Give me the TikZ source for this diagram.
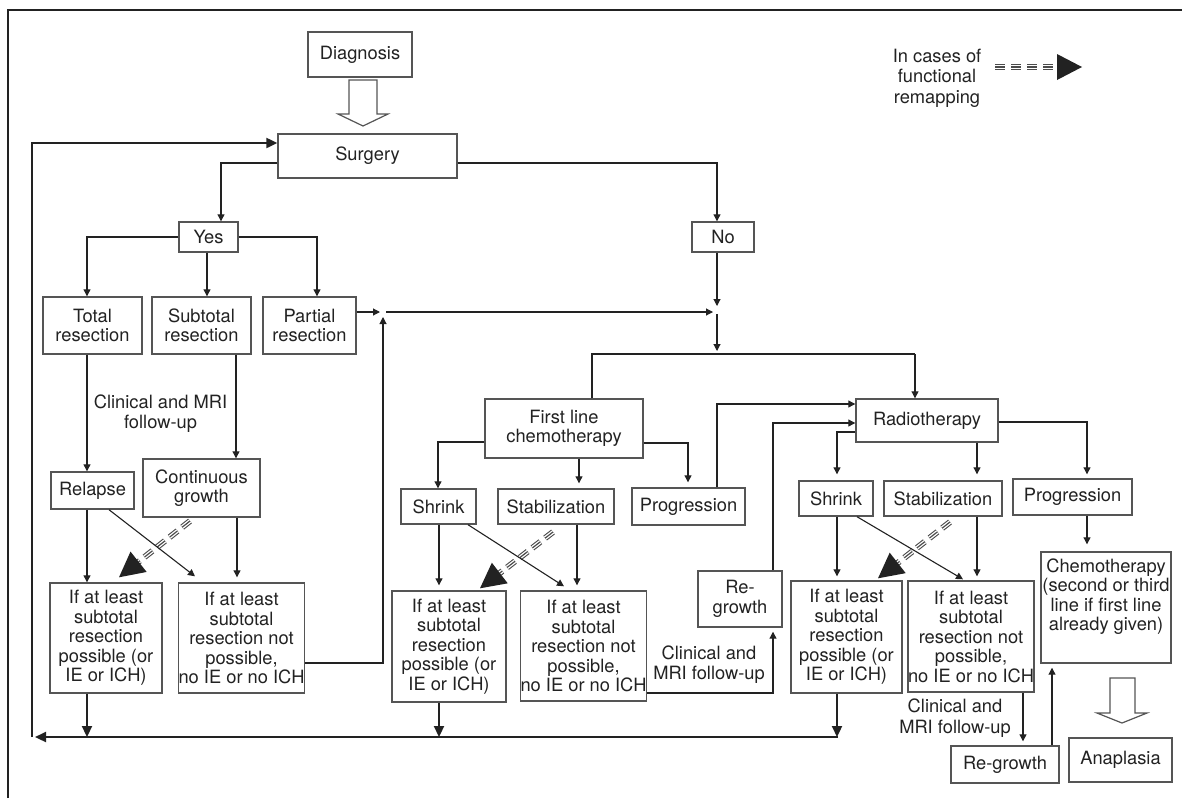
\documentclass[tikz,border=0pt]{standalone}
\usepackage{fontspec}
\setmainfont{TeX Gyre Heros}
\usetikzlibrary{arrows.meta,calc}
\definecolor{ln}{HTML}{222222}
\definecolor{bx}{HTML}{555555}
\newcommand\remaparrow[2]{%
  \path ($(#2)!25pt!(#1)$) coordinate (rb);
  \draw[line width=6pt, dash pattern=on 10pt off 6pt, black!70] (#1) -- (rb);
  \draw[line width=3.8pt, dash pattern=on 10pt off 6pt, white] (#1) -- (rb);
  \draw[line width=1.2pt, dash pattern=on 10pt off 6pt, black!70] (#1) -- (rb);
  \fill[ln] (#2) -- ($(rb)!13pt!90:(#2)$) -- ($(rb)!13pt!-90:(#2)$) -- cycle;
}
\tikzset{
  box/.style={draw=bx, line width=1.4pt, fill=white, inner sep=0pt, align=center, text=ln, font=\fontsize{18.3}{19.5}\selectfont},
  lbl/.style={inner sep=0pt, align=center, text=ln, font=\fontsize{18.3}{20.5}\selectfont},
  conn/.style={draw=ln, line width=1.1pt, -{Triangle[length=7pt,width=7pt]}},
  plain/.style={draw=ln, line width=1.1pt},
  thk/.style={draw=ln, line width=2.2pt, -{Triangle[length=11pt,width=10pt]}},
  hollow/.style={draw=bx, line width=1.2pt, fill=white},
}
\begin{document}
\begin{tikzpicture}[x=1pt,y=-1pt]
\useasboundingbox (0,0) rectangle (1182,798);
% frame
\draw[ln, line width=2pt] (8,798) -- (8,10) -- (1182,10);

% nodes
\node[box, minimum width=104pt, minimum height=45pt] (diag) at (360,54.5) {Diagnosis};
\node[box, minimum width=179pt, minimum height=44pt] (surg) at (367.5,156) {Surgery};
\node[box, minimum width=59pt, minimum height=30pt] (yes) at (208.5,237) {Yes};
\node[box, minimum width=62pt, minimum height=30pt] (no) at (723,237) {No};
\node[box, minimum width=99pt, minimum height=57pt] (total) at (92.5,325.5) {Total\\resection};
\node[box, minimum width=99pt, minimum height=57pt] (subt) at (201.5,325.5) {Subtotal\\resection};
\node[box, minimum width=93pt, minimum height=57pt] (part) at (309.5,325.5) {Partial\\resection};
\node[box, minimum width=83pt, minimum height=37pt] (relapse) at (92.5,490.5) {Relapse};
\node[box, minimum width=117pt, minimum height=58pt] (cont) at (201.5,488) {Continuous\\growth};
\node[box, minimum width=112pt, minimum height=110pt] (pA) at (106,638) {If at least\\subtotal\\resection\\possible (or\\IE or ICH)};
\node[box, minimum width=125pt, minimum height=110pt] (npA) at (241.5,638) {If at least\\subtotal\\resection not\\possible,\\no IE or no ICH};
\node[box, minimum width=158pt, minimum height=59pt] (first) at (564,428.5) {First line\\chemotherapy};
\node[box, minimum width=75pt, minimum height=35pt] (shr1) at (438.5,506.5) {Shrink};
\node[box, minimum width=116pt, minimum height=35pt] (stab1) at (556,506.5) {Stabilization};
\node[box, minimum width=113pt, minimum height=37pt] (prog1) at (688.5,506.5) {Progression};
\node[box, minimum width=114pt, minimum height=111pt] (pB) at (449,646.5) {If at least\\subtotal\\resection\\possible (or\\IE or ICH)};
\node[box, minimum width=125pt, minimum height=110pt] (npB) at (583.5,646) {If at least\\subtotal\\resection not\\possible,\\no IE or no ICH};
\node[box, minimum width=84pt, minimum height=56pt] (regr1) at (740,599) {Re-\\growth};
\node[box, minimum width=142pt, minimum height=43pt] (radio) at (927,420.5) {Radiotherapy};
\node[box, minimum width=74pt, minimum height=35pt] (shr2) at (836,498.5) {Shrink};
\node[box, minimum width=118pt, minimum height=35pt] (stab2) at (943,498.5) {Stabilization};
\node[box, minimum width=119pt, minimum height=36pt] (prog2) at (1072.5,497) {Progression};
\node[box, minimum width=111pt, minimum height=112pt] (pC) at (846.5,637) {If at least\\subtotal\\resection\\possible (or\\IE or ICH)};
\node[box, minimum width=124pt, minimum height=111pt] (npC) at (971,636.5) {If at least\\subtotal\\resection not\\possible,\\no IE or no ICH};
\node[box, minimum width=130pt, minimum height=111pt] (chemo) at (1106,607.5) {Chemotherapy\\(second or third\\line if first line\\already given)\\[6pt]};
\node[box, minimum width=108pt, minimum height=37pt] (regr2) at (1005,764.5) {Re-growth};
\node[box, minimum width=103pt, minimum height=44pt] (anap) at (1120.5,760) {Anaplasia};

% labels
\node[lbl] (fu1) at (160.5,413.5) {Clinical and MRI\\follow-up};
\node[lbl] (fu2) at (709,664.5) {Clinical and\\MRI follow-up};
\node[lbl] (fu3) at (955,718) {Clinical and\\MRI follow-up};
\node[lbl] (leg) at (937,78) {In cases of\\functional\\remapping};

% helper coordinates
\coordinate (M) at (383,312);
\coordinate (J) at (717,312);
\coordinate (SJ) at (717,354);
\coordinate (SL) at (592,354);
\coordinate (SR) at (915,354);
\coordinate (BR) at (838,737);
\coordinate (BL) at (32,737);
\coordinate (TL) at (32,143);
\coordinate (legA) at (995,67);
\coordinate (legB) at (1082,67);
\coordinate (rmA0) at (190,521);
\coordinate (rmA1) at ($(pA.north -| 119,0)+(0,-5)$);
\coordinate (rmB0) at (553,532);
\coordinate (rmB1) at ($(pB.north -| 480,0)+(0,-2)$);
\coordinate (rmC0) at (950,522);
\coordinate (rmC1) at ($(pC.north -| 878,0)+(0,-2)$);

% hollow arrows
\draw[hollow] (349,80) -- (377,80) -- (377,114) -- (388,114) -- (363,126) -- (338,114) -- (349,114) -- cycle;
\draw[hollow] (1110,678) -- (1135,678) -- (1135,713) -- (1147,713) -- (1122,723) -- (1097,713) -- (1110,713) -- cycle;

% functional remapping arrows
\remaparrow{legA}{legB}
\remaparrow{rmA0}{rmA1}
\remaparrow{rmB0}{rmB1}
\remaparrow{rmC0}{rmC1}

% connectors
\draw[conn] (surg.west |- 0,163) -| (yes.north -| 221,0);
\draw[conn] (surg.east |- 0,163) -| (no.north -| 717,0);
\draw[conn] (yes.west) -| (total.north -| 87,0);
\draw[conn] (yes.south -| 207,0) -- (subt.north -| 207,0);
\draw[conn] (yes.east) -| (part.north -| 317,0);
\draw[conn] (part.east |- M) -- ([xshift=-3pt]M);
\draw[conn] (npA.east |- 0,663) -| ([yshift=-5pt]M);
\draw[conn] ([xshift=3pt]M) -- ([xshift=-4pt]J);
\draw[conn] (no.south -| J) -- ([yshift=6pt]J);
\draw[conn] ([yshift=-2pt]J) -- ([yshift=3pt]SJ);
\draw[plain] (first.north -| SL) -- (SL) -- (SR);
\draw[conn] (SR) -- (radio.north -| SR);

\draw[conn] (total.south -| 87,0) -- (relapse.north -| 87,0);
\draw[conn] (subt.south -| 236,0) -- (cont.north -| 236,0);
\draw[conn] (relapse.south -| 87,0) -- (pA.north -| 87,0);
\draw[conn] (relapse.south -| 109,0) -- ($(npA.north -| 195,0)+(0,-6)$);
\draw[conn] (cont.south -| 237,0) -- ($(npA.north -| 237,0)+(0,-5)$);

\draw[conn] (first.west |- 0,442) -| (shr1.north -| 438,0);
\draw[conn] (first.south -| 579,0) -- ($(stab1.north -| 579,0)+(0,-5)$);
\draw[conn] (first.east |- 0,443) -| ($(prog1.north -| 688,0)+(0,-5)$);
\draw[conn] (prog1.north -| 717,0) |- (radio.west |- 0,404);
\draw[conn] (regr1.north -| 773,0) |- (radio.west |- 0,423);
\draw[conn] (npB.east |- 0,693) -| ($(regr1.south -| 773,0)+(0,4)$);

\draw[conn] (shr1.south -| 439,0) -- ($(pB.north -| 439,0)+(0,-5)$);
\draw[conn] (shr1.south -| 468,0) -- ($(npB.north -| 564,0)+(0,-4)$);
\draw[conn] (stab1.south -| 577,0) -- ($(npB.north -| 577,0)+(0,-5)$);

\draw[conn] (radio.west |- 0,432) -| ($(shr2.north -| 837,0)+(0,-6)$);
\draw[conn] (radio.south -| 977,0) -- ($(stab2.north -| 977,0)+(0,-6)$);
\draw[conn] (radio.east |- 0,422) -| ($(prog2.north -| 1087,0)+(0,-4)$);
\draw[conn] (prog2.south -| 1087,0) -- ($(chemo.north -| 1087,0)+(0,-7)$);

\draw[conn] (shr2.south -| 837,0) -- ($(pC.north -| 837,0)+(0,-4)$);
\draw[conn] (shr2.south -| 857,0) -- ($(npC.north -| 963,0)+(0,-1)$);
\draw[conn] (stab2.south -| 977,0) -- ($(npC.north -| 977,0)+(0,-4)$);
\draw[conn] (npC.south -| 1023,0) -- ($(regr2.north -| 1023,0)+(0,-4)$);
\draw[conn] (regr2.north -| 1052,0) -- ($(chemo.south -| 1052,0)+(0,4)$);

% loop back to surgery
\draw[thk] (pA.south -| 87,0) -- (BL -| 87,0);
\draw[thk] (pB.south -| 439,0) -- (BL -| 439,0);
\draw[thk] (pC.south -| 837,0) -- (BL -| 837,0);
\draw[thk] (BR) -- ([xshift=3pt]BL);
\draw[thk] (BL) -- (TL) -- (surg.west |- TL);
\end{tikzpicture}
\end{document}
